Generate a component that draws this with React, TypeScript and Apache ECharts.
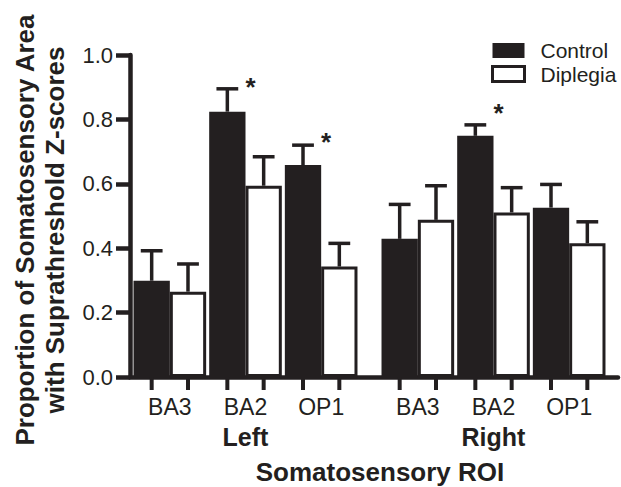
import React, { useEffect, useRef } from "react";
import * as echarts from "echarts";

const regions = ["BA3", "BA2", "OP1"];
const sides = ["Left", "Right"];
const seriesNames = ["Control", "Diplegia"];

// mean values (proportion) per side, per group
const leftControl = [0.299, 0.824, 0.658];
const leftDiplegia = [0.265, 0.594, 0.343];
const rightControl = [0.429, 0.749, 0.526];
const rightDiplegia = [0.488, 0.511, 0.415];

// error (SEM) per bar
const leftControlErr = [0.093, 0.071, 0.062];
const leftDiplegiaErr = [0.086, 0.09, 0.072];
const rightControlErr = [0.107, 0.034, 0.072];
const rightDiplegiaErr = [0.106, 0.077, 0.067];

// significance asterisk height (null = none), on control bars
const leftStars = [null, 0.918, 0.748];
const rightStars = [null, 0.84, null];

const yTicks = [0, 0.2, 0.4, 0.6, 0.8, 1.0];

const INK = "#231f20";
const FONT = "'Liberation Sans', Arial, Helvetica, sans-serif";
const GAP = 0.04;

function buildErr(ctrl: number[], dip: number[], ce: number[], de: number[], stars: (number | null)[]) {
  const out: any[] = [];
  ctrl.forEach((v, i) => out.push([i, v, ce[i], 0, stars[i] == null ? -1 : stars[i]]));
  dip.forEach((v, i) => out.push([i, v, de[i], 1, -1]));
  return out;
}

function renderErr(params: any, api: any) {
  const ci = api.value(0);
  const mean = api.value(1);
  const err = api.value(2);
  const grp = api.value(3);
  const star = api.value(4);
  const base = api.coord([ci, 0]);
  const band = api.size([1, 0])[0];
  const barW = (band * (1 - GAP)) / 2;
  const x = base[0] + (grp === 0 ? -barW / 2 : barW / 2);
  const y0 = base[1];
  const yTop = api.coord([ci, mean])[1];
  const yErr = api.coord([ci, mean + err])[1];
  const capW = barW * 0.6;
  const ls = { stroke: INK, lineWidth: 4 };
  const children: any[] = [
    { type: "line", shape: { x1: x, y1: yTop, x2: x, y2: yErr }, style: { ...ls, lineWidth: 3.5 } },
    { type: "line", shape: { x1: x - capW / 2, y1: yErr, x2: x + capW / 2, y2: yErr }, style: { ...ls, lineWidth: 3.5 } },
    { type: "line", shape: { x1: x, y1: y0, x2: x, y2: y0 + 13 }, style: ls },
  ];
  if (star >= 0) {
    const ys = api.coord([ci, star])[1];
    children.push({
      type: "text",
      x: base[0] + 5,
      y: ys + 6,
      style: { text: "*", font: `bold 26px ${FONT}`, fill: INK, align: "center", verticalAlign: "middle" },
    });
  }
  return { type: "group", children };
}

export default function App() {
  const ref = useRef<HTMLDivElement>(null);
  useEffect(() => {
    if (!ref.current) return;
    const chart = echarts.init(ref.current, undefined, { renderer: "svg" });
    const sideGrid = (i: number) => ({
      type: "category" as const,
      gridIndex: i,
      data: regions,
      axisLine: { show: false },
      axisTick: { show: false },
      axisLabel: { fontSize: 23, color: INK, fontFamily: FONT, margin: 18 },
      name: sides[i - 1],
      nameLocation: "middle" as const,
      nameGap: 47,
      nameTextStyle: { fontSize: 25, fontWeight: "bold" as const, color: INK, fontFamily: FONT },
    });
    const hiddenY = (i: number) => ({ type: "value" as const, gridIndex: i, min: 0, max: 1, show: false });
    const barSeries = (name: string, axis: number, data: number[], white: boolean) => ({
      type: "bar" as const,
      name,
      xAxisIndex: axis,
      yAxisIndex: axis,
      data,
      barGap: "0%",
      barCategoryGap: "4%",
      itemStyle: white
        ? { color: "#ffffff", borderColor: INK, borderWidth: 3 }
        : { color: INK, borderColor: INK, borderWidth: 0 },
      z: 2,
    });
    const gridBase = { outerBoundsMode: "none", containLabel: false, top: 55, height: 322 };
    chart.setOption({
      animation: false,
      backgroundColor: "#ffffff",
      textStyle: { fontFamily: FONT, color: INK },
      grid: [
        { ...gridBase, left: 130, width: 488 },
        { ...gridBase, left: 132, width: 227 },
        { ...gridBase, left: 380, width: 227 },
      ],
      legend: {
        orient: "vertical",
        left: 491,
        top: 40,
        padding: 0,
        itemWidth: 32,
        itemHeight: 15,
        itemGap: 2.5,
        textStyle: { fontSize: 21, color: INK, fontFamily: FONT, padding: [0, 0, 0, 11] },
        data: [
          { name: seriesNames[0], icon: "rect", itemStyle: { color: INK, borderColor: INK, borderWidth: 0 } },
          { name: seriesNames[1], icon: "rect", itemStyle: { color: "#ffffff", borderColor: INK, borderWidth: 3 } },
        ],
        selectedMode: false,
      },
      xAxis: [
        {
          type: "value",
          gridIndex: 0,
          min: 0,
          max: 1,
          axisLine: { show: true, lineStyle: { color: INK, width: 4.5 } },
          axisTick: { show: false },
          axisLabel: { show: false },
          splitLine: { show: false },
          name: "Somatosensory ROI",
          nameLocation: "middle",
          nameGap: 82,
          nameTextStyle: { fontSize: 26, fontWeight: "bold", color: INK, fontFamily: FONT, padding: [0, 0, 0, 12] },
        },
        sideGrid(1),
        sideGrid(2),
      ],
      yAxis: [
        {
          type: "value",
          gridIndex: 0,
          min: yTicks[0],
          max: yTicks[yTicks.length - 1],
          interval: 0.2,
          axisLine: { show: true, lineStyle: { color: INK, width: 4.5 } },
          axisTick: { show: true, length: 14, lineStyle: { color: INK, width: 4.5 } },
          axisLabel: { fontSize: 22, color: INK, fontFamily: FONT, margin: 17, formatter: (v: number) => v.toFixed(1) },
          splitLine: { show: false },
        },
        hiddenY(1),
        hiddenY(2),
      ],
      graphic: [
        {
          type: "text",
          x: 40,
          y: 230,
          rotation: Math.PI / 2,
          style: {
            text: "Proportion of Somatosensory Area\nwith Suprathreshold Z-scores",
            font: `bold 26px ${FONT}`,
            fill: INK,
            align: "center",
            verticalAlign: "middle",
            lineHeight: 30,
          },
        },
      ],
      series: [
        barSeries(seriesNames[0], 1, leftControl, false),
        barSeries(seriesNames[1], 1, leftDiplegia, true),
        barSeries(seriesNames[0], 2, rightControl, false),
        barSeries(seriesNames[1], 2, rightDiplegia, true),
        {
          type: "custom",
          xAxisIndex: 1,
          yAxisIndex: 1,
          data: buildErr(leftControl, leftDiplegia, leftControlErr, leftDiplegiaErr, leftStars),
          renderItem: renderErr,
          clip: false,
          z: 3,
        },
        {
          type: "custom",
          xAxisIndex: 2,
          yAxisIndex: 2,
          data: buildErr(rightControl, rightDiplegia, rightControlErr, rightDiplegiaErr, rightStars),
          renderItem: renderErr,
          clip: false,
          z: 3,
        },
      ],
    });
    return () => chart.dispose();
  }, []);
  return <div ref={ref} style={{ position: "absolute", left: 0, top: 0, width: 621, height: 487 }} />;
}
